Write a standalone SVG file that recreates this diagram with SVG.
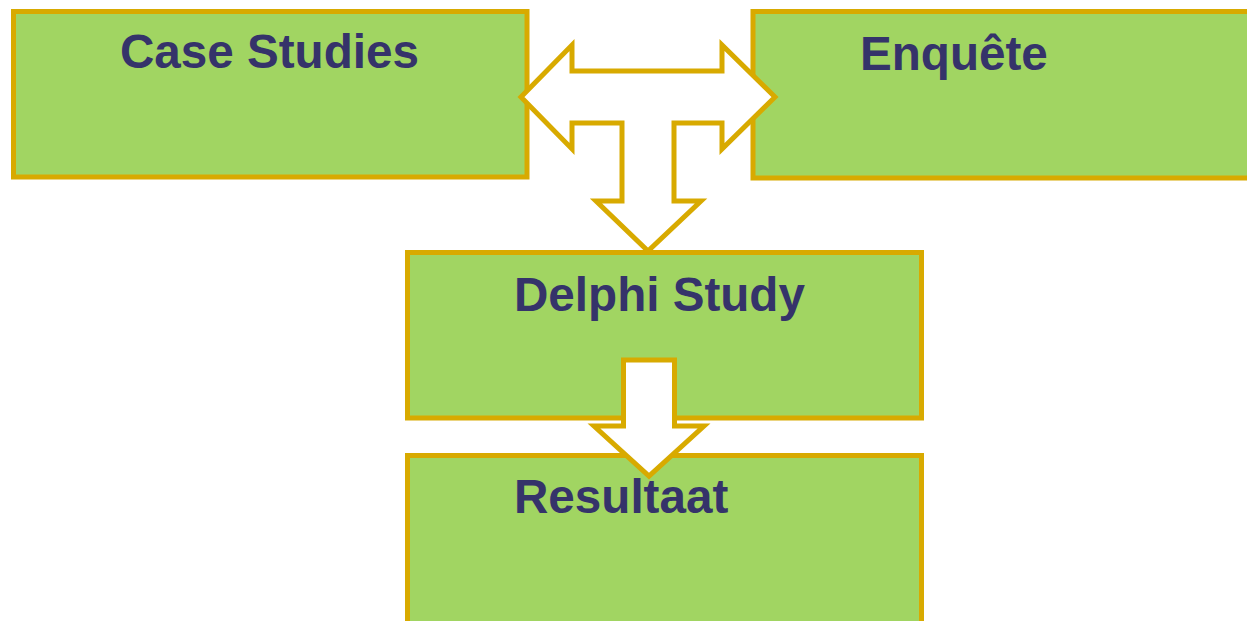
<svg xmlns="http://www.w3.org/2000/svg" width="1247" height="621" viewBox="0 0 1247 621">
<style>
.box{fill:#A1D562;stroke:#D8AA00;stroke-width:5;stroke-linejoin:miter}
.lbl{font-family:"Liberation Sans",Arial,sans-serif;font-weight:bold;font-size:47.6px;fill:#35336A}
.arr{fill:#FFFFFF;stroke:#D8AA00;stroke-width:5;stroke-linejoin:miter}
</style>
<rect width="1247" height="621" fill="#FFFFFF"/>
<g id="case-studies">
<rect class="box" x="13.5" y="11.5" width="513.5" height="165.5"/>
<text class="lbl" x="120" y="68">Case Studies</text>
</g>
<g id="enquete">
<rect class="box" x="753" y="11.5" width="510" height="166.5"/>
<text class="lbl" x="860" y="70">Enquête</text>
</g>
<g id="delphi">
<rect class="box" x="407.5" y="252.5" width="514" height="165.5"/>
<text class="lbl" x="514" y="311">Delphi Study</text>
</g>
<g id="resultaat">
<rect class="box" x="407.5" y="455.5" width="514" height="180"/>
<text class="lbl" x="514" y="513">Resultaat</text>
</g>
<g id="connectors">
<polygon class="arr" points="521,97 572,45 572,71 722,71 722,45 775,97 722,149 722,123 674,123 674,201 701,201 648,251 596,201 622,201 622,123 572,123 572,149"/>
<polygon class="arr" points="623.5,360 674.5,360 674.5,426 704,426 649,476 594,426 623.5,426"/>
</g>
</svg>
